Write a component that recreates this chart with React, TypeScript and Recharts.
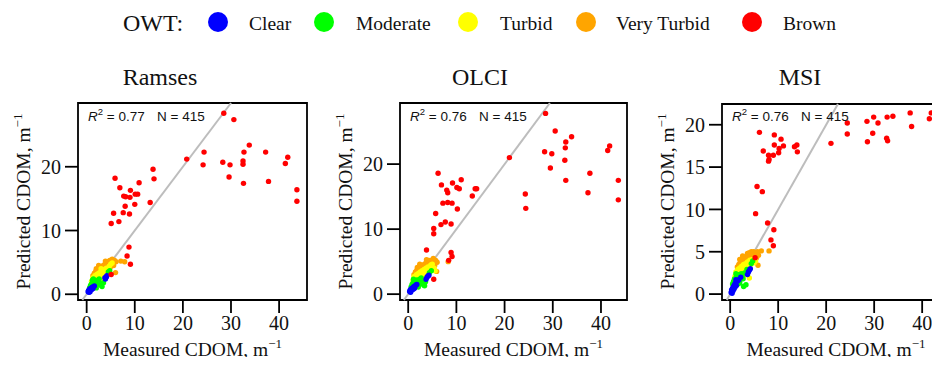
import React from "react";
import {
  ScatterChart,
  Scatter,
  XAxis,
  YAxis,
  ReferenceLine,
  ReferenceArea,
} from "recharts";

type Pt = [number, number];

const owtClasses = ["Clear", "Moderate", "Turbid", "Very Turbid", "Brown"];
const owtColors = ["#0000FF", "#00FF00", "#FFFF00", "#FFA500", "#FF0000"];

const panelTitles = ["Ramses", "OLCI", "MSI"];
const r2Values = ["0.77", "0.76", "0.76"];
const nValues = [415, 415, 415];

const xTicks = [0, 10, 20, 30, 40];
const yTicksWide = [0, 10, 20];
const yTicksMsi = [0, 5, 10, 15, 20];

// ---- Ramses ----
const ramsesClear: Pt[] = [
  [0.3, 0.4], [0.4, 0.6], [0.5, 0.5], [0.6, 0.8], [0.7, 0.6], [0.8, 0.9],
  [0.9, 0.7], [1.0, 1.0], [1.1, 0.8], [1.2, 1.1], [1.4, 1.2], [1.6, 1.3],
  [0.5, 0.3], [0.7, 0.4], [3.9, 2.4], [4.1, 2.7], [4.2, 2.9], [3.8, 2.6],
  [1.3, 0.9],
];
const ramsesModerate: Pt[] = [
  [0.6, 1.0], [0.8, 1.4], [1.0, 1.6], [1.1, 1.3], [1.3, 1.9], [1.5, 1.6],
  [1.7, 2.1], [1.9, 1.8], [2.1, 1.5], [2.3, 2.2], [2.5, 1.9], [2.8, 1.6],
  [3.0, 1.4], [3.2, 1.2], [1.2, 2.2], [1.8, 1.2], [2.6, 2.4], [3.5, 1.8],
  [4.5, 3.5], [4.8, 3.7], [2.0, 1.0], [0.9, 1.2], [1.4, 2.4],
];
const ramsesTurbid: Pt[] = [
  [1.0, 2.0], [1.3, 2.6], [1.5, 2.3], [1.7, 2.9], [1.9, 2.5], [2.1, 3.1],
  [2.3, 2.7], [2.5, 3.3], [2.7, 2.9], [2.9, 3.5], [3.1, 3.0], [3.3, 3.7],
  [3.5, 3.2], [3.7, 3.9], [3.9, 3.4], [4.1, 4.1], [4.4, 3.8], [4.7, 4.4],
  [5.0, 4.7], [2.2, 2.0], [2.8, 2.2], [3.4, 2.6], [4.3, 3.2], [1.6, 1.9],
  [3.0, 4.0], [5.3, 4.9],
];
const ramsesVeryTurbid: Pt[] = [
  [1.3, 2.9], [1.6, 3.3], [1.9, 3.6], [2.2, 3.4], [2.4, 3.9], [2.6, 3.6],
  [2.8, 4.2], [3.0, 3.8], [3.2, 4.4], [3.4, 4.1], [3.6, 4.6], [3.8, 4.3],
  [4.0, 4.9], [4.2, 4.5], [4.4, 5.1], [4.6, 4.7], [4.8, 5.3], [5.0, 4.9],
  [5.2, 5.2], [5.5, 5.0], [5.8, 5.3], [6.1, 5.1], [5.6, 4.5], [6.0, 3.4],
  [4.9, 4.2], [3.5, 3.6], [2.0, 4.0], [7.1, 5.2], [7.9, 5.1], [2.5, 4.5],
  [3.9, 5.2], [5.3, 5.5],
];
const ramsesBrown: Pt[] = [
  [28.5, 28.4], [30.6, 27.4], [33.8, 23.4], [32.7, 22.3], [37.2, 22.3],
  [24.4, 22.3], [20.8, 21.2], [41.8, 21.5], [41.3, 20.5], [24.2, 20.3],
  [28.3, 20.7], [29.8, 20.3], [32.5, 20.9], [32.5, 20.4], [29.6, 18.4],
  [32.6, 17.4], [37.8, 17.7], [43.7, 16.4], [43.7, 14.6], [13.8, 19.6],
  [14.0, 18.1], [5.9, 18.2], [6.9, 16.7], [9.1, 16.3], [7.7, 15.4],
  [8.1, 15.3], [9.0, 15.2], [10.1, 15.7], [10.6, 15.7], [10.9, 17.5],
  [13.2, 14.4], [10.0, 14.1], [8.0, 13.8], [5.6, 12.7], [7.6, 12.8],
  [8.9, 12.6], [5.1, 11.1], [6.7, 11.4], [8.8, 7.4], [8.4, 6.0],
  [9.1, 4.7], [5.1, 3.1],
];

// ---- OLCI ----
const olciClear: Pt[] = [
  [0.3, 0.4], [0.4, 0.6], [0.5, 0.5], [0.6, 0.8], [0.7, 0.6], [0.8, 0.9],
  [0.9, 0.7], [1.0, 1.0], [1.1, 0.8], [1.2, 1.2], [1.4, 1.1], [1.6, 1.4],
  [0.5, 0.3], [1.3, 0.9], [3.7, 2.3], [3.9, 2.6], [4.1, 2.8], [4.3, 2.9],
  [1.8, 1.5],
];
const olciModerate: Pt[] = [
  [0.6, 1.1], [0.8, 1.5], [1.0, 1.7], [1.2, 1.3], [1.4, 2.0], [1.6, 1.7],
  [1.8, 2.2], [2.0, 1.9], [2.2, 1.5], [2.4, 2.3], [2.6, 2.0], [2.9, 1.7],
  [3.2, 1.4], [3.4, 1.3], [1.1, 2.3], [1.9, 1.2], [2.7, 2.5], [3.6, 1.9],
  [4.4, 3.3], [4.8, 3.6], [0.9, 1.3], [2.1, 1.1],
];
const olciTurbid: Pt[] = [
  [1.0, 2.1], [1.2, 2.7], [1.5, 2.4], [1.7, 3.0], [1.9, 2.6], [2.1, 3.2],
  [2.3, 2.8], [2.5, 3.4], [2.7, 3.0], [2.9, 3.6], [3.1, 3.1], [3.3, 3.8],
  [3.5, 3.3], [3.7, 4.0], [3.9, 3.5], [4.1, 4.2], [4.4, 3.9], [4.7, 4.5],
  [5.0, 4.6], [2.2, 2.1], [2.8, 2.3], [3.4, 2.7], [4.2, 3.1], [1.6, 2.0],
  [5.4, 4.0], [5.6, 3.6],
];
const olciVeryTurbid: Pt[] = [
  [1.2, 3.0], [1.5, 3.4], [1.8, 3.7], [2.1, 3.5], [2.3, 4.0], [2.5, 3.7],
  [2.7, 4.3], [2.9, 3.9], [3.1, 4.5], [3.3, 4.2], [3.5, 4.7], [3.7, 4.4],
  [3.9, 5.0], [4.1, 4.6], [4.3, 5.2], [4.5, 4.8], [4.7, 5.1], [4.9, 4.9],
  [5.1, 5.3], [5.4, 5.0], [5.7, 5.2], [6.0, 4.9], [5.5, 4.4], [5.9, 3.5],
  [4.8, 4.2], [3.4, 3.6], [1.9, 4.1], [2.4, 4.6], [3.8, 5.3], [5.2, 5.5],
  [8.3, 5.0],
];
const olciBrown: Pt[] = [
  [28.5, 27.8], [30.5, 25.1], [33.9, 24.2], [32.7, 23.4], [32.6, 22.5],
  [28.3, 21.9], [29.8, 21.6], [21.0, 21.0], [41.8, 22.8], [41.4, 22.1],
  [32.5, 20.6], [29.5, 19.4], [37.7, 18.6], [32.7, 17.5], [43.6, 17.5],
  [37.3, 15.6], [43.6, 14.5], [24.3, 15.4], [24.4, 13.2], [6.2, 18.6],
  [6.9, 16.8], [9.2, 17.1], [11.0, 17.6], [8.0, 16.0], [8.2, 15.6],
  [10.1, 16.4], [10.6, 16.2], [13.9, 16.2], [14.2, 16.2], [13.3, 15.1],
  [7.2, 14.0], [8.2, 14.1], [9.1, 14.0], [10.2, 13.1], [5.7, 12.4],
  [7.7, 11.1], [8.9, 10.8], [6.8, 10.7], [5.3, 10.1], [5.3, 9.3],
  [3.8, 6.8], [8.9, 6.4], [9.1, 5.8], [8.4, 5.2], [5.3, 2.3],
];

// ---- MSI ----
const msiClear: Pt[] = [
  [0.2, 0.2], [0.3, 0.5], [0.4, 0.3], [0.5, 0.7], [0.6, 0.4], [0.7, 0.9],
  [0.8, 0.6], [0.9, 1.1], [1.0, 0.8], [1.1, 1.3], [1.3, 1.0], [1.5, 1.5],
  [1.8, 1.7], [2.2, 2.0], [3.6, 2.3], [3.8, 2.6], [4.0, 2.8], [4.2, 3.0],
  [0.4, 0.1], [1.2, 1.7],
];
const msiModerate: Pt[] = [
  [0.5, 1.2], [0.7, 1.5], [0.9, 1.8], [1.1, 1.6], [1.3, 2.0], [1.5, 1.8],
  [1.7, 2.3], [1.9, 2.0], [2.1, 1.7], [2.3, 2.4], [2.5, 2.1], [2.7, 1.8],
  [3.0, 2.5], [3.3, 1.1], [2.8, 0.9], [1.6, 1.2], [1.2, 2.4], [3.5, 2.9],
  [4.4, 3.6], [4.7, 3.9], [2.0, 1.3], [0.8, 1.0],
];
const msiTurbid: Pt[] = [
  [1.0, 2.1], [1.2, 2.6], [1.4, 2.3], [1.6, 2.9], [1.8, 2.6], [2.0, 3.1],
  [2.2, 2.8], [2.4, 3.3], [2.6, 2.9], [2.8, 3.5], [3.0, 3.1], [3.2, 3.6],
  [3.4, 3.2], [3.6, 3.8], [3.9, 3.4], [4.1, 4.0], [4.3, 3.5], [4.6, 4.1],
  [4.0, 1.9], [2.9, 2.2], [3.7, 2.5], [1.5, 1.9], [5.0, 3.7], [5.3, 3.9],
];
const msiVeryTurbid: Pt[] = [
  [1.5, 3.2], [1.8, 3.5], [2.1, 3.8], [2.3, 3.4], [2.5, 4.0], [2.7, 3.7],
  [2.9, 4.2], [3.1, 3.9], [3.3, 4.4], [3.5, 4.1], [3.6, 4.8], [3.8, 4.4],
  [4.0, 4.9], [4.2, 4.5], [4.4, 5.0], [4.6, 4.6], [4.9, 5.0], [5.1, 4.7],
  [5.4, 4.9], [5.7, 5.0], [5.9, 4.6], [5.5, 4.3], [5.8, 3.4], [4.8, 4.2],
  [3.4, 3.6], [2.0, 4.1], [6.5, 5.1], [8.1, 5.1], [2.6, 4.5], [1.9, 2.9],
];
const msiBrown: Pt[] = [
  [6.1, 19.1], [9.2, 18.8], [10.6, 18.3], [11.1, 17.5], [9.2, 17.6],
  [10.2, 17.2], [10.1, 16.7], [6.9, 16.9], [8.0, 16.4], [9.0, 16.4],
  [8.1, 15.9], [8.0, 15.7], [13.4, 17.4], [13.9, 17.6], [14.0, 16.8],
  [21.0, 17.8], [24.4, 20.2], [24.4, 18.9], [28.5, 20.4], [29.9, 20.9],
  [30.8, 20.2], [32.7, 20.9], [33.9, 21.0], [37.5, 21.4], [41.9, 21.4],
  [41.5, 20.7], [37.8, 19.8], [29.7, 19.0], [28.6, 18.0], [32.6, 18.4],
  [32.8, 18.1], [43.6, 18.8], [43.6, 16.1], [5.6, 12.7], [6.7, 12.1],
  [5.3, 9.5], [7.8, 8.4], [9.1, 7.6], [8.5, 6.4], [9.0, 5.7], [5.2, 4.3],
];

const toXY = (pts: Pt[]) => pts.map(([x, y]) => ({ x, y }));

// drawing order matches the reference (orange under, red on top)
const drawOrder = [3, 2, 1, 0, 4];

const panels = [
  {
    left: 0,
    width: 320,
    margin: { top: 103, right: 13, bottom: 25, left: 18 },
    xDomain: [-1.8, 45.8],
    yDomain: [-0.9, 30.0],
    yTicks: yTicksWide,
    series: [ramsesClear, ramsesModerate, ramsesTurbid, ramsesVeryTurbid, ramsesBrown],
    boxLeft: 78,
    boxRight: 307,
  },
  {
    left: 320,
    width: 320,
    margin: { top: 103, right: 13, bottom: 25, left: 20 },
    xDomain: [-1.7, 45.4],
    yDomain: [-0.9, 29.4],
    yTicks: yTicksWide,
    series: [olciClear, olciModerate, olciTurbid, olciVeryTurbid, olciBrown],
    boxLeft: 400,
    boxRight: 627,
  },
  {
    left: 640,
    width: 320,
    margin: { top: 104, right: 10, bottom: 25, left: 22 },
    xDomain: [-1.7, 45.8],
    yDomain: [-0.7, 22.45],
    yTicks: yTicksMsi,
    series: [msiClear, msiModerate, msiTurbid, msiVeryTurbid, msiBrown],
    boxLeft: 722,
    boxRight: 950,
  },
];

const serif = "'Liberation Serif', 'Times New Roman', serif";
const sans = "'Liberation Sans', Arial, sans-serif";
const tickStyle = { fill: "#111", fontSize: 20, fontFamily: serif };
const lineStyle = { stroke: "#000", strokeWidth: 1.8 };

const Dot = (props: any) => (
  <circle cx={props.cx} cy={props.cy} r={2.7} fill={props.fill} />
);

function Panel({ p }: { p: (typeof panels)[number] }) {
  const lo = Math.max(p.xDomain[0], p.yDomain[0]);
  const hi = Math.min(p.xDomain[1], p.yDomain[1]);
  return (
    <div style={{ position: "absolute", left: p.left, top: 0 }}>
      <ScatterChart width={p.width} height={365} margin={p.margin}>
        <XAxis
          type="number"
          dataKey="x"
          domain={p.xDomain}
          ticks={xTicks}
          allowDataOverflow
          interval={0}
          height={40}
          tickSize={13}
          tickMargin={3}
          axisLine={false}
          tickLine={lineStyle}
          tick={tickStyle}
        />
        <YAxis
          type="number"
          dataKey="y"
          domain={p.yDomain}
          ticks={p.yTicks}
          allowDataOverflow
          interval={0}
          width={60}
          tickSize={13}
          tickMargin={4}
          axisLine={false}
          tickLine={lineStyle}
          tick={tickStyle}
        />
        <ReferenceLine
          segment={[
            { x: lo, y: lo },
            { x: hi, y: hi },
          ]}
          stroke="#bdbdbd"
          strokeWidth={2}
          ifOverflow="visible"
        />
        {drawOrder.map((i) => (
          <Scatter
            key={owtClasses[i]}
            name={owtClasses[i]}
            data={toXY(p.series[i])}
            fill={owtColors[i]}
            shape={Dot}
            isAnimationActive={false}
          />
        ))}
        <ReferenceArea
          x1={p.xDomain[0]}
          x2={p.xDomain[1]}
          y1={p.yDomain[0]}
          y2={p.yDomain[1]}
          fill="none"
          fillOpacity={0}
          stroke="#000"
          strokeWidth={1.8}
          ifOverflow="visible"
        />
      </ScatterChart>
    </div>
  );
}

const legendDots = [218, 324, 468, 586, 752];
const legendText = [249, 356, 500, 616, 783];

export default function App() {
  return (
    <div
      style={{
        position: "relative",
        width: 940,
        height: 365,
        margin: -8,
        overflow: "hidden",
        background: "#fff",
      }}
    >
      {panels.map((p, i) => (
        <Panel key={panelTitles[i]} p={p} />
      ))}
      <svg
        width={940}
        height={365}
        style={{ position: "absolute", left: 0, top: 0, pointerEvents: "none" }}
      >
        <text x={123} y={31} fontSize={24} fontFamily={serif} fill="#111">
          OWT:
        </text>
        {owtClasses.map((c, i) => (
          <g key={c}>
            <circle cx={legendDots[i]} cy={22} r={10} fill={owtColors[i]} />
            <text x={legendText[i]} y={30} fontSize={19.5} fontFamily={serif} fill="#111">
              {c}
            </text>
          </g>
        ))}
        {panels.map((p, i) => {
          const cx = (p.boxLeft + p.boxRight) / 2;
          const pcx = p.left + 160;
          return (
            <g key={panelTitles[i]}>
              <text x={pcx} y={85} fontSize={24} fontFamily={serif} textAnchor="middle" fill="#111">
                {panelTitles[i]}
              </text>
              <text
                x={i === 2 ? 836 : cx}
                y={356}
                fontSize={19.5}
                fontFamily={serif}
                textAnchor="middle"
                fill="#111"
              >
                Measured CDOM, m
                <tspan dy={-8} fontSize={13}>
                  −1
                </tspan>
              </text>
              <text
                transform={`translate(${p.boxLeft - 48}, 201.5) rotate(-90)`}
                fontSize={19.5}
                fontFamily={serif}
                textAnchor="middle"
                fill="#111"
              >
                Predicted CDOM, m
                <tspan dy={-8} fontSize={13}>
                  −1
                </tspan>
              </text>
              <text x={p.boxLeft + 10} y={121} fontSize={13.5} fontFamily={sans} fill="#111">
                <tspan fontStyle="italic">R</tspan>
                <tspan dy={-6} fontSize={9.5}>
                  2
                </tspan>
                <tspan dy={6}>{` = ${r2Values[i]}`}</tspan>
              </text>
              <text x={p.boxLeft + 79} y={121} fontSize={13.5} fontFamily={sans} fill="#111">
                {`N = ${nValues[i]}`}
              </text>
            </g>
          );
        })}
      </svg>
    </div>
  );
}
